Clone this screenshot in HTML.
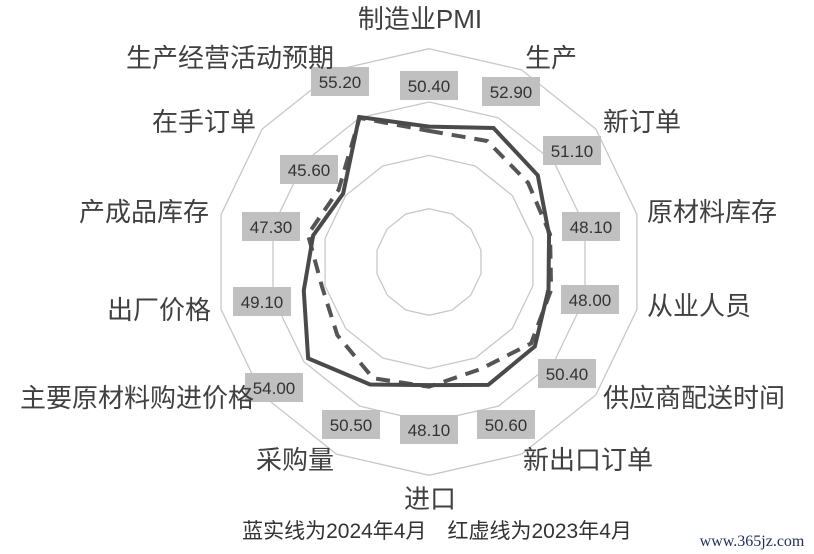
<!DOCTYPE html>
<html><head><meta charset="utf-8"><style>
html,body{margin:0;padding:0;background:#fff;}
body{width:814px;height:554px;overflow:hidden;position:relative;font-family:"Liberation Sans","Noto Sans CJK SC",sans-serif;}
</style></head><body>
<svg id="s" width="814" height="554" xmlns="http://www.w3.org/2000/svg" style="position:absolute;left:0;top:0">
<g id="grid" fill="none" stroke="#c8c8c8" stroke-width="1.3"></g>
<polygon id="dash" fill="none" stroke="#555" stroke-width="4" stroke-dasharray="14,9"/>
<polygon id="solid" fill="none" stroke="#4a4a4a" stroke-width="4" stroke-linejoin="miter"/>
<g id="boxes" fill="#c0c0c0"></g>
<g font-size="17" fill="#333" text-anchor="middle" font-family="Liberation Sans, sans-serif">
<text x="340" y="88">55.20</text>
<text x="429" y="92">50.40</text>
<text x="511" y="98">52.90</text>
<text x="572" y="157">51.10</text>
<text x="591" y="233">48.10</text>
<text x="590" y="306">48.00</text>
<text x="567" y="380">50.40</text>
<text x="506" y="431">50.60</text>
<text x="429" y="436">48.10</text>
<text x="351" y="431">50.50</text>
<text x="274" y="394">54.00</text>
<text x="262" y="308">49.10</text>
<text x="271" y="233">47.30</text>
<text x="309" y="176">45.60</text>
</g>
<g font-size="26" fill="#404040" font-family="Liberation Sans, Noto Sans CJK SC, sans-serif">
<text x="420" y="28" text-anchor="middle">制造业PMI</text>
<text x="525" y="67">生产</text>
<text x="603" y="131">新订单</text>
<text x="647" y="221">原材料库存</text>
<text x="647" y="315">从业人员</text>
<text x="603" y="407">供应商配送时间</text>
<text x="523" y="469">新出口订单</text>
<text x="430" y="508" text-anchor="middle">进口</text>
<text x="334" y="469" text-anchor="end">采购量</text>
<text x="254" y="407" text-anchor="end">主要原材料购进价格</text>
<text x="211" y="319" text-anchor="end">出厂价格</text>
<text x="209" y="221" text-anchor="end">产成品库存</text>
<text x="256" y="131" text-anchor="end">在手订单</text>
<text x="334" y="67" text-anchor="end">生产经营活动预期</text>
</g>
<text x="437" y="538" text-anchor="middle" font-size="21" fill="#333" font-family="Liberation Sans, Noto Sans CJK SC, sans-serif">蓝实线为2024年4月　红虚线为2023年4月</text>
<text x="752" y="546" text-anchor="middle" font-size="16" fill="#1f2f5a" font-family="Liberation Serif, serif">www.365jz.com</text>
</svg>
<script>
var cx=429,cy=262,N=14,k=5.33,c=25;
function pt(r,i){var a=i*2*Math.PI/N;return [cx+r*Math.sin(a),cy-r*Math.cos(a)];}
var g=document.getElementById('grid'),ns="http://www.w3.org/2000/svg";
[53.3,106.6,160,213.3].forEach(function(r){var p=[];for(var i=0;i<N;i++)p.push(pt(r,i).join(','));var e=document.createElementNS(ns,'polygon');e.setAttribute('points',p.join(' '));g.appendChild(e);});
var s=[50.4,52.9,51.1,48.1,48.0,50.4,50.6,48.1,50.5,54.0,49.1,47.3,45.6,55.2];
var d=[49.6,50.2,48.8,48.3,48.5,49.5,47.3,48.4,49.2,47.0,45.6,48.3,46.7,55.0];
function poly(v){return v.map(function(x,i){return pt(k*(x-c),i).join(',');}).join(' ');}
document.getElementById('solid').setAttribute('points',poly(s));
document.getElementById('dash').setAttribute('points',poly(d));
var bx=[[311,67],[400,71],[482,77],[543,136],[562,212],[561,285],[538,359],[477,410],[400,415],[322,410],[245,373],[233,287],[242,212],[280,155]];
var B=document.getElementById('boxes');
bx.forEach(function(b){var e=document.createElementNS(ns,'rect');e.setAttribute('x',b[0]);e.setAttribute('y',b[1]);e.setAttribute('width',58);e.setAttribute('height',29);B.appendChild(e);});
</script>
</body></html>
